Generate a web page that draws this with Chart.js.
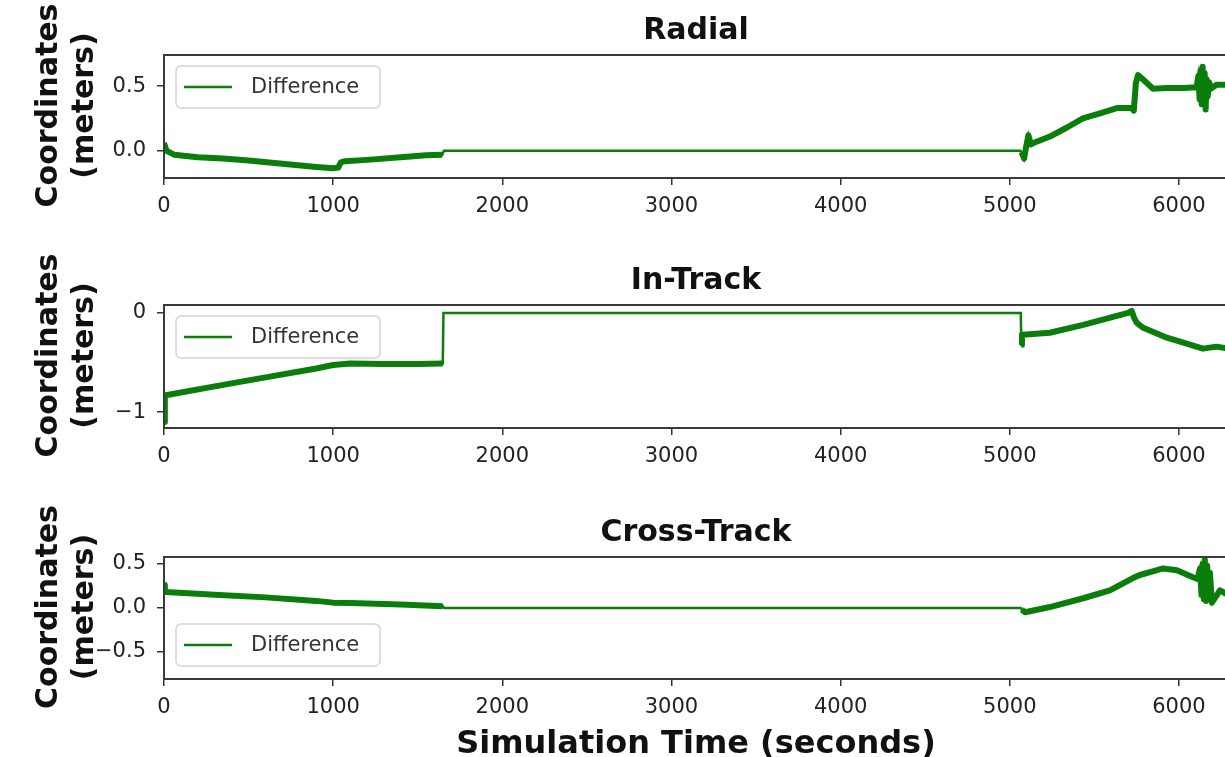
<!DOCTYPE html>
<html><head><meta charset="utf-8">
<script src="https://cdn.jsdelivr.net/npm/chart.js@4.4.1/dist/chart.umd.min.js"></script>
<style>
html,body{margin:0;padding:0;background:#fff;overflow:hidden;width:1225px;height:757px;}
canvas{position:absolute;left:0;}
</style></head><body>
<canvas id="c1" width="1250" height="250" style="top:0px"></canvas>
<canvas id="c2" width="1250" height="250" style="top:250px"></canvas>
<canvas id="c3" width="1250" height="257" style="top:500px"></canvas>
<script>
// ---------------- DATA ----------------
const seriesLabel = "Difference";
const panelTitles = ["Radial", "In-Track", "Cross-Track"];
const yAxisTitle = ["Coordinates", "(meters)"];
const xAxisTitle = "Simulation Time (seconds)";

const xTicks = [0, 1000, 2000, 3000, 4000, 5000, 6000];
const xTickLabels = ["0", "1000", "2000", "3000", "4000", "5000", "6000"];

// flat (noise-free) segment bounds, seconds
const flatStart = 1651;
const flatEnd = 5066;

const radialTime = [0, 15, 60, 200, 350, 500, 700, 900, 1000, 1030, 1045, 1070, 1200, 1400, 1550, 1645, 1655,
  5060, 5070, 5085, 5095, 5110, 5125, 5140, 5237, 5338, 5432, 5533, 5633, 5721, 5733, 5745, 5758, 5788, 5847,
  5928, 6025, 6104, 6115, 6122, 6128, 6134, 6140, 6146, 6152, 6158, 6163, 6170, 6178, 6190, 6222, 6290];
const radialValue = [0.06, 0.0, -0.03, -0.05, -0.06, -0.075, -0.10, -0.125, -0.135, -0.13, -0.09, -0.08, -0.07, -0.05, -0.035, -0.03, 0.0,
  0.0, -0.01, -0.06, 0.02, 0.12, 0.05, 0.06, 0.11, 0.18, 0.25, 0.29, 0.33, 0.33, 0.31, 0.52, 0.585, 0.55, 0.48,
  0.485, 0.485, 0.49, 0.58, 0.40, 0.62, 0.36, 0.65, 0.38, 0.60, 0.32, 0.55, 0.42, 0.53, 0.48, 0.51, 0.51];

const inTrackTime = [0, 5, 10, 300, 600, 900, 1000, 1100, 1300, 1500, 1648, 1652,
  5065, 5068, 5072, 5076, 5237, 5434, 5633, 5700, 5721, 5735, 5751, 5789, 5929, 6065, 6142, 6180, 6222, 6290];
const inTrackValue = [-1.1, -0.84, -0.83, -0.74, -0.65, -0.56, -0.525, -0.51, -0.515, -0.515, -0.51, 0.0,
  0.0, -0.32, -0.22, -0.22, -0.20, -0.12, -0.03, 0.0, 0.02, -0.05, -0.10, -0.15, -0.25, -0.32, -0.36, -0.35, -0.34, -0.36];

const crossTime = [0, 5, 10, 300, 600, 900, 1000, 1100, 1400, 1648, 1656,
  5065, 5071, 5090, 5237, 5434, 5592, 5728, 5769, 5850, 5906, 5988, 6083, 6110, 6125, 6133, 6140, 6147,
  6153, 6160, 6167, 6175, 6183, 6195, 6242, 6290];
const crossValue = [0.26, 0.18, 0.18, 0.15, 0.12, 0.08, 0.06, 0.055, 0.04, 0.02, 0.0,
  0.0, -0.02, -0.05, 0.01, 0.11, 0.20, 0.34, 0.375, 0.42, 0.45, 0.43, 0.35, 0.33, 0.45, 0.15, 0.50, 0.10,
  0.55, 0.08, 0.48, 0.12, 0.40, 0.06, 0.20, 0.15];

const radialYTicks = [0, 0.5];
const radialYTickLabels = ["0.0", "0.5"];
const inTrackYTicks = [-1, 0];
const inTrackYTickLabels = ["\u22121", "0"];
const crossYTicks = [-0.5, 0, 0.5];
const crossYTickLabels = ["\u22120.5", "0.0", "0.5"];

const radialYRange = [-0.21, 0.74];
const inTrackYRange = [-1.16, 0.08];
const crossYRange = [-0.81, 0.58];
const xRange = [0, 6290];

// ---------------- STYLE / LAYOUT ----------------
const GREEN = '#0a7d0a';
const FONT = '"DejaVu Sans", sans-serif';
const Y_SCALE_W = 80, X_SCALE_H = 50;

const decor = {
  id: 'decor',
  afterDraw(chart, args, o) {
    const ctx = chart.ctx, a = chart.chartArea;
    ctx.save();
    // legend
    const bw = 204, bh = 42;
    const bx = a.left + 12;
    const by = o.legendLoc === 'lower' ? a.bottom - 13 - bh : a.top + 11;
    ctx.beginPath();
    if (ctx.roundRect) ctx.roundRect(bx, by, bw, bh, 5); else ctx.rect(bx, by, bw, bh);
    ctx.fillStyle = 'rgba(255,255,255,0.85)';
    ctx.fill();
    ctx.strokeStyle = '#d4d4d4'; ctx.lineWidth = 1.5; ctx.stroke();
    const ly = by + bh / 2;
    ctx.beginPath(); ctx.moveTo(bx + 8, ly); ctx.lineTo(bx + 56, ly);
    ctx.strokeStyle = GREEN; ctx.lineWidth = 2.5; ctx.stroke();
    ctx.fillStyle = '#333'; ctx.font = '21px ' + FONT;
    ctx.textAlign = 'left'; ctx.textBaseline = 'middle';
    ctx.fillText(chart.data.datasets[0].label, bx + 75, ly + 1);
    // frame
    ctx.strokeStyle = '#3a3a3a'; ctx.lineWidth = 2;
    ctx.strokeRect(a.left, a.top, a.right - a.left, a.bottom - a.top);
    // title
    ctx.fillStyle = '#111'; ctx.font = 'bold 30px ' + FONT;
    ctx.textAlign = 'center'; ctx.textBaseline = 'alphabetic';
    ctx.fillText(o.title, (a.left + a.right) / 2, a.top - 16);
    // y title
    const cy = (a.top + a.bottom) / 2 - 11;
    ctx.save();
    ctx.translate(57, cy); ctx.rotate(-Math.PI / 2);
    ctx.fillText(yAxisTitle[0], 0, 0);
    ctx.restore();
    ctx.save();
    ctx.translate(93, cy); ctx.rotate(-Math.PI / 2);
    ctx.fillText(yAxisTitle[1], 0, 0);
    ctx.restore();
    // x title
    if (o.xTitle) {
      ctx.font = 'bold 32px ' + FONT;
      ctx.fillText(o.xTitle, (a.left + a.right) / 2, a.bottom + 74);
    }
    ctx.restore();
  }
};

function makePanel(id, times, values, yTicks, yLabels, yRange, title, legendLoc, padTop, padBottom, xTitle) {
  const pts = times.map((t, i) => ({x: t, y: values[i]}));
  const noisy = [];
  times.forEach((t, i) => {
    if (t <= flatStart || t >= flatEnd) noisy.push({x: t, y: values[i]});
    if (i > 0 && times[i - 1] <= flatStart && t > flatStart) noisy.push({x: t, y: null});
  });
  return new Chart(document.getElementById(id), {
    type: 'line',
    data: {
      datasets: [
        {label: seriesLabel, data: pts, borderColor: GREEN, borderWidth: 2.5, pointRadius: 0, tension: 0, fill: false},
        {label: seriesLabel + ' band', data: noisy, borderColor: GREEN, borderWidth: 6, pointRadius: 0, tension: 0, fill: false, spanGaps: false, borderJoinStyle: 'round'}
      ]
    },
    options: {
      responsive: false, animation: false, devicePixelRatio: 1,
      layout: {padding: {left: 164 - Y_SCALE_W, right: 22, top: padTop, bottom: padBottom}},
      plugins: {legend: {display: false}, tooltip: {enabled: false}, title: {display: false},
        decor: {title: title, legendLoc: legendLoc, xTitle: xTitle}},
      scales: {
        x: {
          type: 'linear', min: xRange[0], max: xRange[1],
          afterFit(s) { s.height = X_SCALE_H; },
          afterBuildTicks(s) { s.ticks = xTicks.map(v => ({value: v})); },
          grid: {display: true, drawOnChartArea: false, drawTicks: true, tickLength: 7, color: '#333', lineWidth: 1.5},
          border: {display: false},
          ticks: {autoSkip: false, maxRotation: 0, padding: 9, color: '#222', font: {family: FONT, size: 21},
            callback: (v, i) => xTickLabels[i]}
        },
        y: {
          type: 'linear', min: yRange[0], max: yRange[1],
          afterFit(s) { s.width = Y_SCALE_W; },
          afterBuildTicks(s) { s.ticks = yTicks.map(v => ({value: v})); },
          grid: {display: true, drawOnChartArea: false, drawTicks: true, tickLength: 7, color: '#333', lineWidth: 1.5},
          border: {display: false},
          ticks: {autoSkip: false, padding: 11, color: '#222', font: {family: FONT, size: 21},
            callback: (v, i) => yLabels[i]}
        }
      }
    },
    plugins: [decor]
  });
}

makePanel('c1', radialTime, radialValue, radialYTicks, radialYTickLabels, radialYRange, panelTitles[0], 'upper', 55, 250 - 178 - X_SCALE_H, null);
makePanel('c2', inTrackTime, inTrackValue, inTrackYTicks, inTrackYTickLabels, inTrackYRange, panelTitles[1], 'upper', 55, 250 - 178 - X_SCALE_H, null);
makePanel('c3', crossTime, crossValue, crossYTicks, crossYTickLabels, crossYRange, panelTitles[2], 'lower', 57, 257 - 179 - X_SCALE_H, xAxisTitle);
</script>
</body></html>
